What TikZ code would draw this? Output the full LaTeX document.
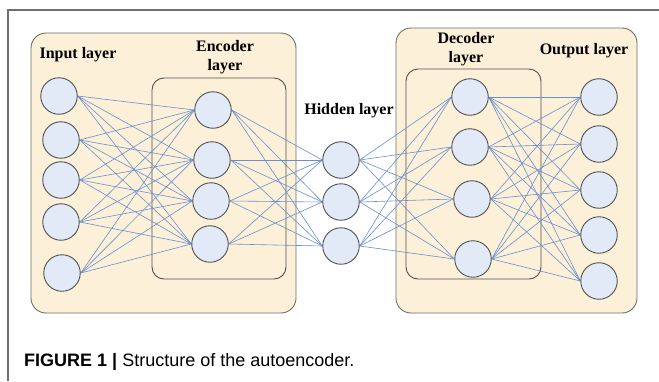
\documentclass[tikz,border=0pt]{standalone}
\usepackage{fontspec}
\setmainfont{Liberation Serif}
\newfontfamily\capfont{Liberation Sans}
\definecolor{boxfill}{RGB}{252,240,216}
\definecolor{boxline}{RGB}{110,110,110}
\definecolor{nodefill}{RGB}{226,234,247}
\definecolor{nodeline}{RGB}{80,80,80}
\definecolor{linkcol}{RGB}{105,143,210}
\definecolor{framecol}{RGB}{110,110,110}
\pgfdeclarelayer{bglayer}
\pgfdeclarelayer{linklayer}
\pgfsetlayers{bglayer,linklayer,main}
\begin{document}
\begin{tikzpicture}[x=1pt,y=-1pt,
  neuron/.style={circle,draw=nodeline,fill=nodefill,line width=0.9pt,minimum size=36.5pt,inner sep=0pt},
  layerbox/.style={draw=boxline,fill=boxfill,line width=0.9pt,rounded corners=15pt},
  innerbox/.style={draw=nodeline,line width=0.9pt,rounded corners=12pt},
  link/.style={draw=linkcol,line width=0.6pt},
  lbl/.style={font=\fontsize{16}{19}\selectfont\bfseries,align=center,inner sep=0pt}]
\useasboundingbox (0,0) rectangle (659,381);
\begin{pgfonlayer}{bglayer}
\fill[white] (0,0) rectangle (659,381);
% frame
\draw[framecol,line width=1.3pt] (659,10) -- (8,10) -- (8,381);
% boxes
\draw[layerbox] (31,33) rectangle (296,313);
\draw[layerbox] (396,28) rectangle (637,313);
\draw[innerbox] (152,78) rectangle (286,279);
\draw[innerbox] (406,69) rectangle (541,279);
\end{pgfonlayer}
% neurons
\foreach \n/\x/\y in {1/59/96,2/61/140,3/61/180,4/61/222,5/62/273}
  \node[neuron] (i\n) at (\x,\y) {};
\foreach \n/\x/\y in {1/213/110,2/212/160,3/211/201,4/210/244}
  \node[neuron] (e\n) at (\x,\y) {};
\foreach \n/\x/\y in {1/341/160,2/341/202,3/341/246}
  \node[neuron] (h\n) at (\x,\y) {};
\foreach \n/\x/\y in {1/470/97,2/470/147,3/472/199,4/473/259}
  \node[neuron] (d\n) at (\x,\y) {};
\foreach \n/\x/\y in {1/599/97,2/599/144,3/599/190,4/599/235,5/599/281}
  \node[neuron] (o\n) at (\x,\y) {};
% links
\begin{pgfonlayer}{linklayer}
\foreach \a in {1,...,5} \foreach \b in {1,...,4} \draw[link] (i\a.east) -- (e\b.west);
\foreach \a in {1,...,4} \foreach \b in {1,...,3} \draw[link] (e\a.east) -- (h\b.west);
\foreach \a in {1,...,3} \foreach \b in {1,...,4} \draw[link] (h\a.east) -- (d\b.west);
\foreach \a in {1,...,4} \foreach \b in {1,...,5} \draw[link] (d\a.east) -- (o\b.west);
\end{pgfonlayer}
% labels
\node[lbl] (tin) at (78,55) {Input layer};
\node[lbl] (tenc) at (225,57) {Encoder\\layer};
\node[lbl] (thid) at (349,111) {Hidden layer};
\node[lbl] (tdec) at (466,49) {Decoder\\layer};
\node[lbl] (tout) at (584,51) {Output layer};
% caption
\node[anchor=west,inner sep=0pt,font=\capfont\fontsize{18}{21}\selectfont] (cap) at (24,362) {\textbf{FIGURE 1 |} Structure of the autoencoder.};
\end{tikzpicture}
\end{document}
